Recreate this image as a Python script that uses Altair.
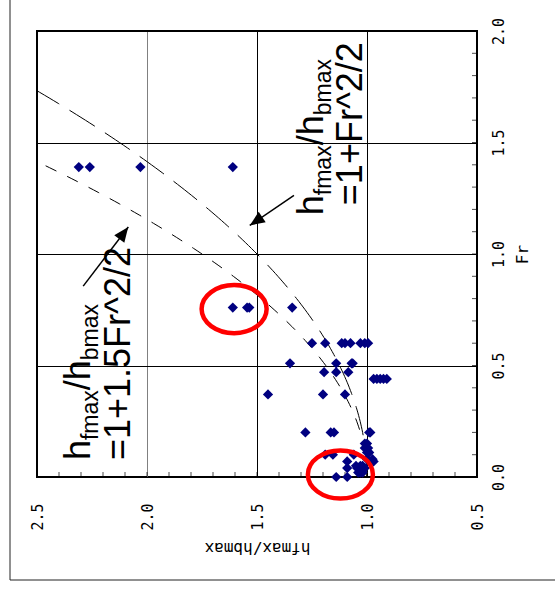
import altair as alt
import numpy as np
import pandas as pd

# Measured runs: Froude number and ratio of maximum wave heights hfmax/hbmax
fr_values = [
    1.39, 1.39, 1.39, 1.39,
    0.76, 0.76, 0.76, 0.76,
    0.60, 0.60, 0.60, 0.60, 0.60, 0.60, 0.60, 0.60,
    0.51, 0.51, 0.51, 0.51,
    0.47, 0.47, 0.47,
    0.44, 0.44, 0.44, 0.44, 0.44,
    0.37, 0.37, 0.37,
    0.20, 0.20, 0.20, 0.20, 0.20,
    0.15, 0.15,
    0.13, 0.13, 0.13,
    0.11, 0.11,
    0.10, 0.10, 0.10,
    0.08, 0.08,
    0.07, 0.07,
    0.05, 0.05, 0.05,
    0.04, 0.04, 0.04,
    0.02, 0.02, 0.02,
    0.00, 0.00,
]
ratio_values = [
    2.31, 2.26, 2.03, 1.61,
    1.61, 1.545, 1.535, 1.34,
    1.25, 1.19, 1.115, 1.10, 1.075, 1.03, 1.01, 0.995,
    1.35, 1.14, 1.07, 1.065,
    1.195, 1.14, 1.085,
    0.97, 0.955, 0.94, 0.925, 0.91,
    1.45, 1.20, 1.10,
    1.28, 1.165, 1.15, 0.99, 0.985,
    1.00, 1.01,
    1.01, 1.005, 0.995,
    1.00, 0.99,
    1.19, 1.155, 1.06,
    0.975, 1.00,
    1.09, 0.97,
    1.05, 1.02, 1.03,
    1.09, 1.045, 1.01,
    1.04, 1.03, 1.02,
    1.14, 1.09,
]

# Circled groups of runs (centre ratio, centre Fr)
circle_ratio = [1.604, 1.121]
circle_fr = [0.753, 0.011]

# Axis ticks
ratio_ticks = [0.5, 1.0, 1.5, 2.0, 2.5]
fr_ticks = [0.0, 0.5, 1.0, 1.5, 2.0]
ratio_minor = [round(0.5 + 0.1 * i, 1) for i in range(21)]
fr_minor = [round(0.1 * i, 1) for i in range(21)]

# Theoretical curves hfmax/hbmax = 1 + k*Fr^2/2
fr_curve = np.linspace(0.0, 2.0, 161)
curve_k1 = pd.DataFrame({"fr": fr_curve, "ratio": 1 + fr_curve ** 2 / 2})
curve_k15 = pd.DataFrame({"fr": fr_curve, "ratio": 1 + 1.5 * fr_curve ** 2 / 2})

W, H = 440, 446
MONO = "DejaVu Sans Mono"
SANS = "Liberation Sans"
BIG = 36
SUB = 23

xscale = alt.Scale(domain=[0.5, 2.5], reverse=True, nice=False, zero=False)
yscale = alt.Scale(domain=[0.0, 2.0], nice=False, zero=False)

X = alt.X(
    "ratio:Q", scale=xscale,
    axis=alt.Axis(
        values=ratio_ticks, format=".1f", title="hfmax/hbmax",
        orient="bottom", ticks=False, domain=False,
        labelAngle=270, labelAlign="right", labelBaseline="middle",
        labelFont=MONO, labelFontSize=15, labelColor="black", labelPadding=26,
        titleFont=MONO, titleFontSize=16, titleFontWeight="normal", titleColor="black",
        titleAngle=180, titleBaseline="bottom", titlePadding=9,
        grid=True, gridWidth=1,
        gridColor={"condition": {"test": "datum.value == 2", "value": "#808080"}, "value": "black"},
    ),
)
Y = alt.Y(
    "fr:Q", scale=yscale,
    axis=alt.Axis(
        values=fr_ticks, format=".1f", title="Fr", orient="right",
        ticks=False, domain=False,
        labelAngle=270, labelAlign="center", labelBaseline="top",
        labelFont=MONO, labelFontSize=15, labelColor="black", labelPadding=14,
        titleFont=MONO, titleFontSize=16, titleFontWeight="normal", titleColor="black",
        titleAngle=270, titleBaseline="top", titlePadding=8,
        grid=True, gridColor="black", gridWidth=1,
    ),
)

points = alt.Chart(pd.DataFrame({"ratio": ratio_values, "fr": fr_values})).mark_point(
    shape="diamond", filled=True, size=105, color="#000080", opacity=1
).encode(x=X, y=Y)

# Minor ticks pointing into the plot
bottom_ticks = alt.Chart(pd.DataFrame({"ratio": ratio_minor, "fr": 0.0})).mark_tick(
    orient="vertical", size=5, thickness=1, color="black", yOffset=-2.5
).encode(x=X, y=Y)
right_ticks = alt.Chart(pd.DataFrame({"fr": fr_minor, "ratio": 0.5})).mark_tick(
    orient="horizontal", size=5, thickness=1, color="black", xOffset=-2.5
).encode(x=X, y=Y)

line_k1 = alt.Chart(curve_k1).mark_line(
    color="black", strokeWidth=1, strokeDash=[30, 12], clip=True
).encode(x=X, y=Y, order="fr:Q")
line_k15 = alt.Chart(curve_k15).mark_line(
    color="black", strokeWidth=1, strokeDash=[12, 12], clip=True
).encode(x=X, y=Y, order="fr:Q")

ellipse_path = "M -1 0 A 1 0.74 0 1 1 1 0 A 1 0.74 0 1 1 -1 0 Z"
circles = alt.Chart(pd.DataFrame({"ratio": circle_ratio, "fr": circle_fr})).mark_point(
    shape=ellipse_path, size=4225, filled=False, stroke="#ff0000", strokeWidth=4.5, opacity=1
).encode(x=X, y=Y)

# Formula labels built from pieces so that subscripts can be drawn
EM = {"h": 0.556, "f": 0.278, "m": 0.833, "a": 0.556, "x": 0.5, "b": 0.556, "/": 0.278}


def text_width(s, size):
    return sum(EM.get(c, 0.556) for c in s) * size


def formula(ratio, fr, parts):
    layers = []
    offset = 0.0
    for txt, sub in parts:
        size = SUB if sub else BIG
        df = pd.DataFrame({"ratio": [ratio], "fr": [fr], "t": [txt]})
        layers.append(alt.Chart(df).mark_text(
            angle=270, align="left", baseline="alphabetic", font=SANS,
            fontSize=size, dx=offset, dy=(8 if sub else 0), color="black"
        ).encode(x=X, y=Y, text="t:N"))
        offset += text_width(txt, size)
    return layers


ratio_parts = [("h", False), ("fmax", True), ("/h", False), ("bmax", True)]

label_a1 = formula(2.26, 0.076, ratio_parts)
label_a2 = formula(2.077, 0.076, [("=1+1.5Fr^2/2", False)])
label_b1 = formula(1.20, 1.174, ratio_parts)
label_b2 = formula(1.023, 1.219, [("=1+Fr^2/2", False)])

# Arrows from the labels to their curves
arrow_a = pd.DataFrame({"ratio": [2.29, 2.085], "fr": [0.856, 1.121], "step": [0, 1]})
arrow_b = pd.DataFrame({"ratio": [1.332, 1.533], "fr": [1.263, 1.128], "step": [0, 1]})
head_path = "M 0 0 L 0.42 1 L -0.42 1 Z"


def arrow(df, angle):
    shaft = alt.Chart(df).mark_line(color="black", strokeWidth=1.5).encode(
        x=X, y=Y, order="step:Q"
    )
    head = alt.Chart(df[df.step == 1]).mark_point(
        shape=head_path, size=900, filled=True, color="black", opacity=1, angle=angle
    ).encode(x=X, y=Y)
    return [shaft, head]


# Outer figure frame (left and bottom edges)
frame_left = alt.Chart(pd.DataFrame({"k": [0]})).mark_rule(color="#222222", strokeWidth=1).encode(
    x=alt.value(-27), y=alt.value(-31), y2=alt.value(549)
)
frame_bottom = alt.Chart(pd.DataFrame({"k": [0]})).mark_rule(color="#222222", strokeWidth=1).encode(
    x=alt.value(-27), x2=alt.value(518), y=alt.value(549)
)

chart = alt.layer(
    bottom_ticks, right_ticks, line_k1, line_k15, points,
    *label_a1, *label_a2, *label_b1, *label_b2,
    *arrow(arrow_a, 37), *arrow(arrow_b, 236), circles, frame_left, frame_bottom,
).properties(
    width=W, height=H,
    padding={"left": 37, "top": 31, "right": 78, "bottom": 112},
    autosize=alt.AutoSizeParams(type="none"),
    background="white",
).configure_view(stroke="black", strokeWidth=2)

chart.save("out.html", embed_options={"renderer": "svg", "actions": False})
